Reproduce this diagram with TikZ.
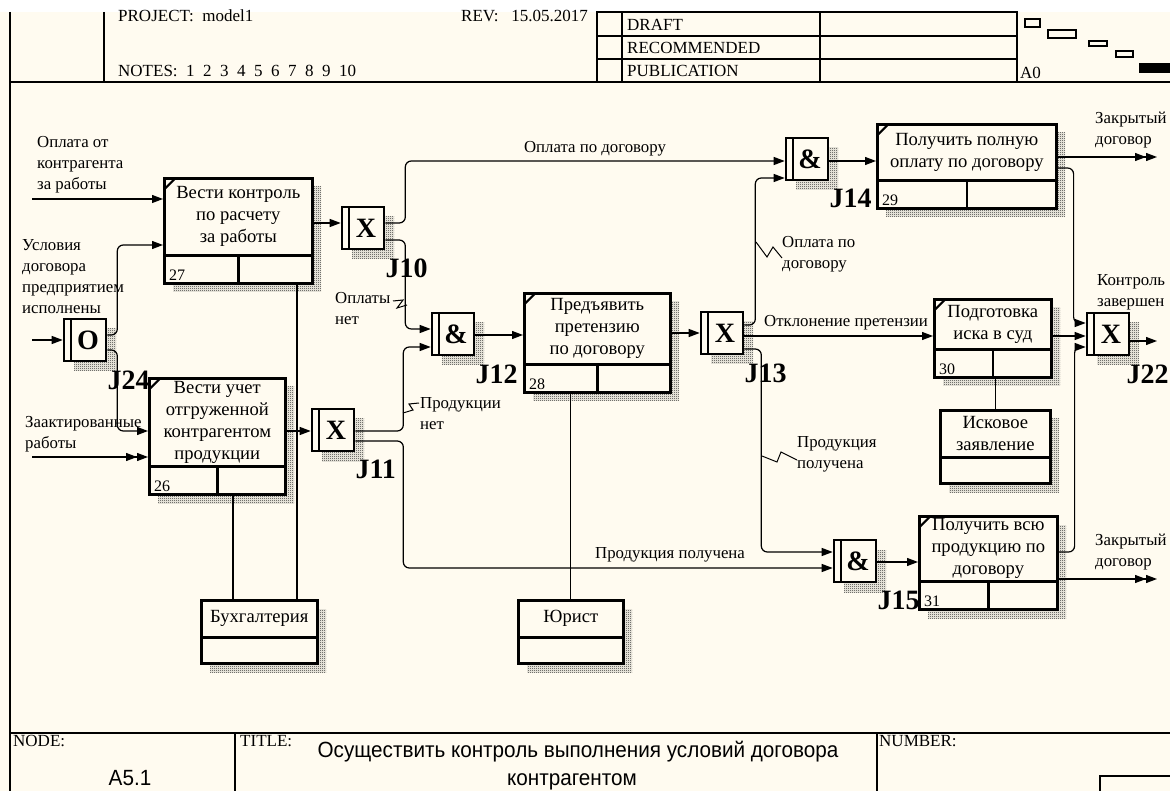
\documentclass[tikz,border=0pt]{standalone}
\usepackage{fontspec}
\setmainfont{Liberation Serif}
\newfontfamily\titlefont[FakeStretch=0.94]{Liberation Sans}
\usetikzlibrary{arrows.meta,positioning,patterns,patterns.meta}

\definecolor{paper}{RGB}{255,251,240}

\tikzdeclarepattern{
  name=shadecheck,
  type=uncolored,
  bounding box={(0pt,0pt) and (2pt,2pt)},
  tile size={(2pt,2pt)},
  code={
    \pgfpathrectangle{\pgfpointorigin}{\pgfpoint{1pt}{1pt}}
    \pgfpathrectangle{\pgfpoint{1pt}{1pt}}{\pgfpoint{1pt}{1pt}}
    \pgfusepath{fill}
  }
}

% unit of work: name, north west corner, width, height, number, text
\newcommand{\uowbox}[6]{%
  \fill[boxshade] ([shift={(10,10)}]#2) rectangle ++(#3,#4);
  \node[uow, minimum width=#3pt, minimum height=#4pt, anchor=north west] (#1) at (#2) {};
  \node[uowtext] (#1t) at ([yshift=14pt]#1.center) {#6};
  \node[numtext, anchor=south west] (#1n) at (#1.south west) {#5};
}
% resource box: name, north west corner, width, height, text
\newcommand{\resbox}[5]{%
  \fill[boxshade] ([shift={(10,10)}]#2) rectangle ++(#3,#4);
  \node[res, minimum width=#3pt, minimum height=#4pt, anchor=north west] (#1) at (#2) {};
  \node[uowtext] (#1t) at ([yshift=13pt]#1.center) {#5};
}
% junction: name, centre, letter
\newcommand{\junction}[3]{%
  \fill[boxshade] ([shift={(-11,-11)}]#2) rectangle ++(42,42);
  \node[jbox] (#1) at (#2) {\hspace*{6pt}#3};
}

\begin{document}
\begin{tikzpicture}[
    x=1pt,
    y=-1pt,
    uow/.style={draw, line width=2.6pt, fill=paper, inner sep=0pt,
      path picture={
        \draw[line width=2.6pt]
          ([yshift=28pt]path picture bounding box.south west) -- ([yshift=28pt]path picture bounding box.south east)
          ([yshift=28pt]path picture bounding box.south) -- (path picture bounding box.south);
        \draw[line width=2pt]
          ([yshift=-11pt]path picture bounding box.north west) -- ([xshift=11pt]path picture bounding box.north west);
      }},
    res/.style={draw, line width=2.6pt, fill=paper, inner sep=0pt,
      path picture={
        \draw[line width=2.6pt]
          ([yshift=26pt]path picture bounding box.south west) -- ([yshift=26pt]path picture bounding box.south east);
      }},
    uowtext/.style={align=center, inner sep=0pt, font=\fontsize{18.6}{22}\selectfont},
    numtext/.style={inner xsep=6pt, inner ysep=4pt, font=\fontsize{16}{18}\selectfont},
    jbox/.style={draw, line width=2.6pt, fill=paper, minimum width=42pt, minimum height=42pt,
      inner sep=0pt, font=\fontsize{28}{28}\selectfont\bfseries,
      path picture={
        \draw[line width=2.6pt]
          ([xshift=7pt]path picture bounding box.north west) -- ([xshift=7pt]path picture bounding box.south west);
      }},
    jlabel/.style={inner sep=0pt, font=\fontsize{28}{28}\selectfont\bfseries},
    lbl/.style={align=left, inner sep=0pt, font=\fontsize{16.8}{21}\selectfont},
    hdr/.style={inner sep=0pt, font=\fontsize{17}{19}\selectfont},
    ttl/.style={inner sep=0pt, font=\titlefont\fontsize{22}{24}\selectfont},
    flow/.style={line width=1.2pt, rounded corners=6pt, -{Triangle[length=11pt,width=8pt]}},
    flowtwo/.style={flow, -{Triangle[length=11pt,width=8pt]Triangle[length=11pt,width=8pt]}},
    link/.style={line width=1.2pt},
    squig/.style={line width=1pt},
    frame/.style={line width=1.5pt},
    boxshade/.style={pattern=shadecheck, pattern color=black!85}
  ]
    \useasboundingbox (0,0) rectangle (1170,791);
    \fill[white] (0,0) rectangle (1170,791);
    \fill[paper] (0,12) rectangle (1170,791);

    % frame
    \draw[frame] (10,12) -- (10,791);
    \draw[frame] (104,12) -- (104,82);
    \draw[frame] (10,82) -- (1170,82);
    \draw[frame] (597,12) rectangle (1017,82);
    \draw[frame] (622,12) -- (622,82) (820,12) -- (820,82)
      (597,36) -- (1017,36) (597,59) -- (1017,59);
    \draw[frame] (10,733) -- (1170,733);
    \draw[frame] (235,733) -- (235,791) (877,733) -- (877,791);
    \draw[frame] (1100,791) -- (1100,776) -- (1170,776);

    \draw[line width=1.2pt] (1025,19) rectangle (1040,27);
    \draw[line width=1.2pt] (1048,30) rectangle (1076,38);
    \draw[line width=1.2pt] (1089,41) rectangle (1107,46);
    \draw[line width=1.2pt] (1116,51) rectangle (1133,57);
    \fill (1139,63) rectangle (1170,73);

    \node[hdr, anchor=base west] (proj) at (118,22) {PROJECT:\ \ model1};
    \node[hdr, anchor=base west] (rev) at (461,22) {REV:\ \ \ 15.05.2017};
    \node[hdr, anchor=base west] (notes) at (118,77) {NOTES:~~1~~2~~3~~4~~5~~6~~7~~8~~9~~10};
    \node[hdr, anchor=base west] (draft) at (627,31) {DRAFT};
    \node[hdr, anchor=base west] (recom) at (627,54) {RECOMMENDED};
    \node[hdr, anchor=base west] (publ) at (627,77) {PUBLICATION};
    \node[hdr, anchor=base west] (azero) at (1020,79) {A0};

    \node[hdr, anchor=base west] (nodelbl) at (13,746) {NODE:};
    \node[hdr, anchor=base west] (titlelbl) at (240,746) {TITLE:};
    \node[hdr, anchor=base west] (numlbl) at (879,746) {NUMBER:};
    \node[ttl, anchor=base] (nodeid) at (130,785) {A5.1};
    \node[ttl, anchor=base] (ttlone) at (578,757) {Осуществить контроль выполнения условий договора};
    \node[ttl, anchor=base] (ttltwo) at (572,785) {контрагентом};

    % units of work
    \uowbox{u27}{163,177}{148}{105}{27}{Вести контроль\\по расчету\\за работы}
    \uowbox{u26}{148,377}{136}{116}{26}{Вести учет\\отгруженной\\контрагентом\\продукции}
    \uowbox{u28}{523,292}{146}{99}{28}{Предъявить\\претензию\\по договору}
    \uowbox{u29}{876,123}{179}{84}{29}{Получить полную\\оплату по договору}
    \uowbox{u30}{933,298}{117}{78}{30}{Подготовка\\иска в суд}
    \uowbox{u31}{918,515}{138}{93}{31}{Получить всю\\продукцию по\\договору}

    % resources
    \resbox{r1}{200,599}{116}{63}{Бухгалтерия}
    \resbox{r2}{517,599}{105}{63}{Юрист}
    \resbox{r3}{939,409}{110}{73}{Исковое\\заявление}

    % junctions
    \junction{j24}{85,340}{O}
    \junction{j10}{363,228}{X}
    \junction{j11}{333,430}{X}
    \junction{j12}{453,334}{\&}
    \junction{j13}{722,333}{X}
    \junction{j14}{807,159}{\&}
    \junction{j15}{855,561}{\&}
    \junction{j22}{1108,334}{X}

    \node[jlabel, below right=8pt and 0pt of j24] (l24) {J24};
    \node[jlabel, below right=8pt and 0pt of j10] (l10) {J10};
    \node[jlabel, below right=8pt and 0pt of j11] (l11) {J11};
    \node[jlabel, below right=8pt and 0pt of j12] (l12) {J12};
    \node[jlabel, below right=8pt and 0pt of j13] (l13) {J13};
    \node[jlabel, below right=8pt and 0pt of j14] (l14) {J14};
    \node[jlabel, below right=8pt and 0pt of j15] (l15) {J15};
    \node[jlabel, below right=8pt and -4pt of j22] (l22) {J22};

    % free ends
    \coordinate (inpay) at (32,199);
    \coordinate (incond) at (32,340);
    \coordinate (inact) at (32,457);
    \coordinate (outone) at (1157,157);
    \coordinate (outtwo) at (1157,579);
    \coordinate (outdone) at (1157,341);

    % links
    \draw[flow] (inpay) -- (u27.west |- inpay);
    \draw[flow] (incond) -- (j24.west);
    \draw[flowtwo] (inact) -- (u26.west |- inact);
    \draw[flow] ([yshift=5pt]j24.east) -- ++(10,0) |- (u27.west |- 0,245);
    \draw[flow] ([yshift=-10pt]j24.east) -- ++(10,0) |- (u26.west |- 0,431);
    \draw[flow] (u27.east |- 0,223) -- (j10.west |- 0,223);
    \draw[flow] (u26.east |- 0,431) -- (j11.west |- 0,431);
    \draw[flow] (j10.east |- 0,223) -- ++(20,0) |- (j14.west |- 0,161);
    \draw[flow] (j10.east |- 0,240) -- ++(20,0) |- (j12.west |- 0,329);
    \draw[flow] (j11.east |- 0,431) -- ++(48,0) |- (j12.west |- 0,347);
    \draw[flow] (j11.east |- 0,441) -- ++(48,0) |- (j15.west |- 0,568);
    \draw[flow] (j12.east |- 0,335) -- (u28.west |- 0,335);
    \draw[flow] (u28.east |- 0,333) -- (j13.west |- 0,333);
    \draw[flow] (j13.east |- 0,325) -- ++(11,0) |- (j14.west |- 0,178);
    \draw[flow] (j13.east |- 0,336) -- (u30.west |- 0,336);
    \draw[flow] (j13.east |- 0,349) -- ++(17,0) |- (j15.west |- 0,552);
    \draw[flow] (j14.east |- 0,161) -- (u29.west |- 0,161);
    \draw[flow] (j15.east |- 0,562) -- (u31.west |- 0,562);
    \draw[flowtwo] (u29.east |- outone) -- (outone);
    \draw[flowtwo] (u31.east |- outtwo) -- (outtwo);
    \draw[flow] (u29.east |- 0,168) -- ++(16,0) |- (j22.west |- 0,323);
    \draw[flow] (u30.east |- 0,336) -- (j22.west |- 0,336);
    \draw[flow] (u31.east |- 0,552) -- ++(16,0) |- (j22.west |- 0,347);
    \draw[flow] (j22.east |- outdone) -- (outdone);

    \draw[link] (r1.north -| 233,0) -- (u26.south -| 233,0);
    \draw[link] (r1.north -| 297,0) -- (u27.south -| 297,0);
    \draw[link] (r2.north) -- (r2.north |- u28.south);
    \draw[link] (r3.north) -- (r3.north |- u30.south);

    % labels
    \node[lbl, anchor=north west] (lpay) at (37,136) {Оплата от\\контрагента\\за работы};
    \node[lbl, anchor=north west] (lcond) at (22,239) {Условия\\договора\\предприятием\\исполнены};
    \node[lbl, anchor=north west] (lact) at (25,416) {Заактированные\\работы};
    \node[lbl, anchor=base] (lpaydog) at (595,153) {Оплата по договору};
    \node[lbl, anchor=north west] (lnopay) at (335,292) {Оплаты\\нет};
    \node[lbl, anchor=north west] (lnoprod) at (420,397) {Продукции\\нет};
    \node[lbl, anchor=base] (lprodok) at (670,558) {Продукция получена};
    \node[lbl, anchor=base] (lreject) at (846,327) {Отклонение претензии};
    \node[lbl, anchor=north west] (lpaydogb) at (782,236) {Оплата по\\договору};
    \node[lbl, anchor=north west] (lprodokb) at (797,436) {Продукция\\получена};
    \node[lbl, anchor=north west] (lclosedone) at (1095,112) {Закрытый\\договор};
    \node[lbl, anchor=north west] (lclosedtwo) at (1095,534) {Закрытый\\договор};
    \node[lbl, anchor=north west] (ldone) at (1097,274) {Контроль\\завершен};

    % squiggles
    \draw[squig] (393,301) -- (403,300) -- (397,308) -- (407,305);
    \draw[squig] (403,413) -- (413,410) -- (409,404) -- (419,403);
    \draw[squig] (756,242) -- (767,257) -- (773,247) -- (782,258);
    \draw[squig] (762,456) -- (777,462) -- (781,452) -- (797,460);
\end{tikzpicture}
\end{document}
